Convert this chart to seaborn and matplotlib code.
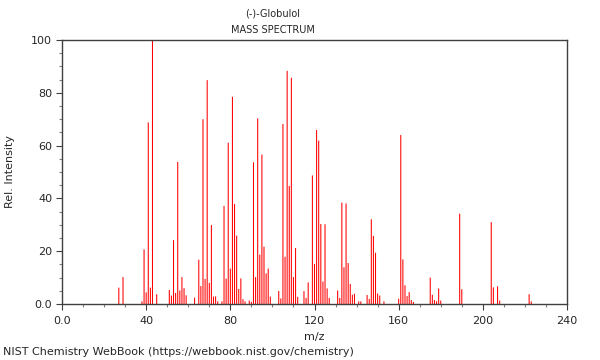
import matplotlib
matplotlib.use("Agg")
import matplotlib.pyplot as plt
import seaborn as sns
import pandas as pd
from matplotlib.ticker import MultipleLocator, FuncFormatter

# peaks (m/z, relative intensity)
mz = [27, 29, 38, 39, 40, 41, 42, 43, 45,
      51, 52, 53, 54, 55, 56, 57, 58, 59,
      63, 65, 66, 67, 68, 69, 70, 71, 72, 73, 74, 76,
      77, 78, 79, 80, 81, 82, 83, 84, 85, 86, 87, 89, 90,
      91, 92, 93, 94, 95, 96, 97, 98, 99,
      103, 104, 105, 106, 107, 108, 109, 110, 111, 112,
      115, 116, 117, 119, 120, 121, 122, 123, 124, 125, 126, 127,
      131, 132, 133, 134, 135, 136, 137, 138, 139, 141, 142,
      145, 146, 147, 148, 149, 150, 151, 153,
      160, 161, 162, 163, 164, 165, 166, 167,
      175, 176, 177, 178, 179, 180, 189, 190,
      204, 205, 207, 208, 222, 223]
intensity = [6.2, 10.2, 1.0, 20.7, 4.4, 68.8, 6.2, 100.0, 3.7,
             5.3, 3.2, 24.2, 4.2, 53.8, 5.1, 10.2, 6.0, 3.3,
             2.4, 16.8, 6.8, 70.0, 9.5, 84.8, 8.0, 29.9, 2.8, 2.9, 1.0, 1.0,
             37.1, 9.6, 61.1, 13.4, 78.5, 37.9, 25.9, 5.7, 9.7, 1.8, 1.0, 1.3, 0.8,
             53.7, 10.2, 70.3, 18.7, 56.6, 21.7, 11.6, 13.4, 2.8,
             4.9, 2.1, 68.2, 17.9, 88.3, 44.7, 85.7, 10.2, 21.2, 2.7,
             4.9, 2.3, 8.2, 48.7, 15.2, 65.9, 61.9, 30.3, 8.5, 30.2, 5.9, 2.3,
             5.1, 2.3, 38.4, 13.9, 38.1, 15.5, 7.6, 3.5, 3.9, 1.0, 1.0,
             3.4, 1.9, 32.1, 25.8, 19.4, 4.0, 3.2, 1.0,
             2.0, 64.0, 16.9, 7.1, 3.0, 4.5, 1.5, 0.8,
             10.0, 3.5, 1.5, 1.0, 5.9, 1.3, 34.2, 5.6,
             31.0, 6.3, 6.7, 1.3, 3.7, 1.0]

compound = "(-)-Globulol"
x_ticks = [0, 40, 80, 120, 160, 200, 240]
y_ticks = [0, 20, 40, 60, 80, 100]

df = pd.DataFrame({"mz": mz, "intensity": intensity})

sns.set_style("white")
plt.rcParams["font.family"] = ["DejaVu Sans"]

fig = plt.figure(figsize=(6, 3.6), dpi=100)
ax = fig.add_axes([62 / 600, 1 - 304 / 360, 505 / 600, 264 / 360])

sns.histplot(data=df, x="mz", weights="intensity", discrete=True, shrink=0.5,
             color="#ff0000", alpha=1, linewidth=0, snap=False, ax=ax)

ax.set_xlim(0, 240)
ax.set_ylim(0, 100)
ax.set_xticks(x_ticks)
ax.set_yticks(y_ticks)
ax.xaxis.set_minor_locator(MultipleLocator(10))
ax.yaxis.set_minor_locator(MultipleLocator(5))
fmt = FuncFormatter(lambda v, p: "0.0" if v == 0 else f"{v:.0f}")
ax.xaxis.set_major_formatter(fmt)
ax.yaxis.set_major_formatter(fmt)
ax.tick_params(which="major", direction="out", length=4, width=0.8,
               color="#404040", labelsize=8, pad=3, bottom=True, left=True)
ax.tick_params(which="minor", direction="out", length=2.5, width=0.8,
               color="#808080", bottom=True, left=True)
ax.tick_params(axis="x", which="major", pad=5)
for s in ax.spines.values():
    s.set_color("#404040")
    s.set_linewidth(1)

ax.set_xlabel("m/z", fontsize=8, labelpad=4)
ax.set_ylabel("Rel. Intensity", fontsize=8, labelpad=12)

fig.text(273 / 600, 1 - 13 / 360, compound, ha="center", va="center", fontsize=7)
fig.text(273 / 600, 1 - 30 / 360, "MASS SPECTRUM", ha="center", va="center", fontsize=7)
fig.text(3 / 600, 1 - 352 / 360, "NIST Chemistry WebBook (https://webbook.nist.gov/chemistry)",
         ha="left", va="center", fontsize=8)

fig.savefig("out.png", dpi=100)
